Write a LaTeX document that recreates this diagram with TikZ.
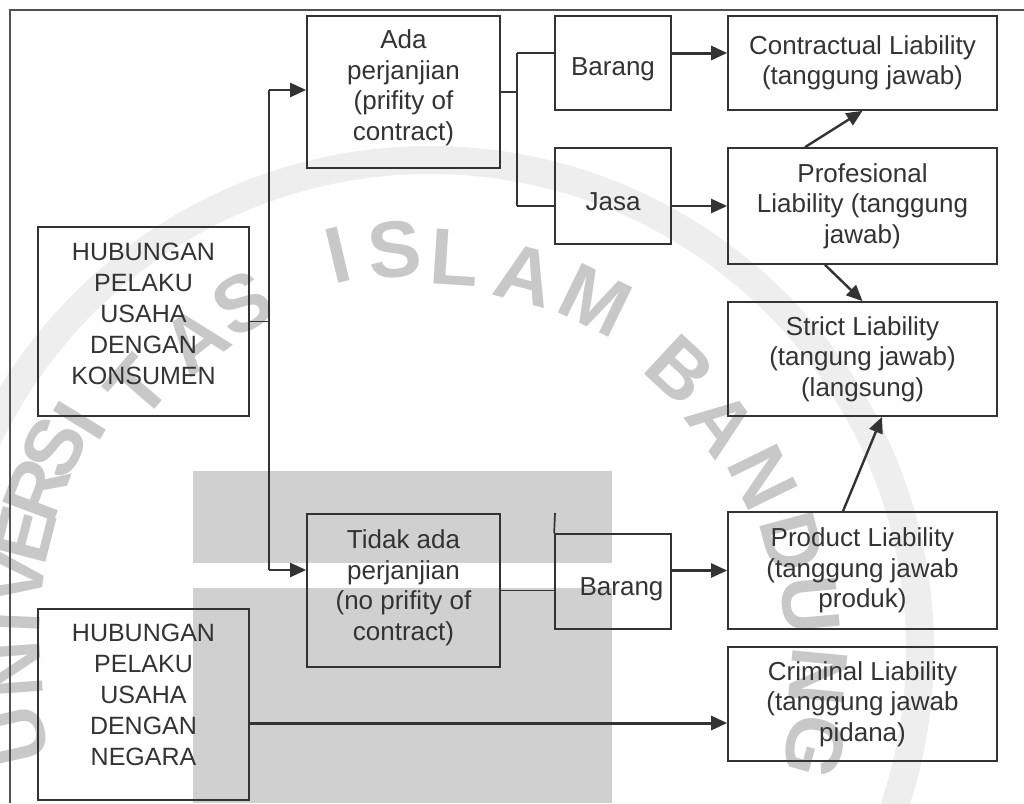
\documentclass[tikz,border=0pt]{standalone}
\usepackage{fontspec}
\setmainfont{Liberation Sans}
\usetikzlibrary{arrows.meta,calc}
\definecolor{ink}{HTML}{333333}
\definecolor{wmgray}{RGB}{208,208,208}
\definecolor{ringgray}{RGB}{238,238,238}
\definecolor{wmletter}{RGB}{200,200,200}
\tikzset{
  box/.style={draw=ink, line width=1.7pt, align=center, inner sep=0pt, text=ink, font=\fontsize{26}{30.5}\selectfont},
  bigbox/.style={box, font=\fontsize{25}{31}\selectfont},
  conn/.style={draw=ink, line width=1.7pt},
  arr/.style={draw=ink, line width=2.4pt, -{Triangle[length=16pt,width=14pt]}},
  wm/.style={text=wmletter, font=\fontsize{80}{80}\bfseries\selectfont, inner sep=0pt},
}
\begin{document}
\begin{tikzpicture}[x=1pt,y=-1pt]
\useasboundingbox (0,0) rectangle (1024,803);
% watermark
\begin{scope}
\clip (0,0) rectangle (1024,803);
\draw[ringgray, line width=28pt] (430,650) circle[radius=490pt];
\end{scope}
\fill[wmgray] (193,471) rectangle (612,563);
\fill[wmgray] (193,588) rectangle (612,803);
\foreach \c/\x/\y/\r [count=\i] in {U/18/735/102.9, N/14/670/94, I/12/622/87.5, V/16/578/81.5, E/24/535/75.6, R/37/490/69.5, S/54/447/63.1, I/80/421/58.4, T/138/387/49.1, A/195/340/38.1, S/242/303/29.2,
 I/338/255/13.4, S/395/250/5.1, L/455/258/-3.7, A/525/275/-14.6, M/595/300/-25.9,
 B/680/370/-42.9, A/722/423/-53.4, N/763/477/-63.9, D/793/542/-74.9, U/810/605/-84.7, N/818/677/-95.4, G/815/747/-105.5}
  \node[wm, rotate=\r] (wm\i) at (\x,\y) {\c};
% frame
\coordinate (f1) at (10,803);
\coordinate (f2) at (10,10);
\coordinate (f3) at (1024,10);
\draw[draw=ink!85, line width=1.8pt] (f1) -- (f2) -- (f3);
% boxes
\node[box, minimum width=193pt, minimum height=152pt, text depth=13.5pt] (ada) at (403.5,92) {Ada\\perjanjian\\(prifity of\\contract)};
\node[box, minimum width=116pt, minimum height=94pt, text height=31pt] (bar1) at (613,63) {Barang};
\node[box, minimum width=269pt, minimum height=94pt] (contr) at (862.5,63) {Contractual Liability\\(tanggung jawab)};
\node[box, minimum width=116pt, minimum height=96pt, text height=28.6pt] (jasa) at (613,196) {Jasa};
\node[box, minimum width=269pt, minimum height=116pt] (prof) at (862.5,206) {Profesional\\Liability (tanggung\\jawab)};
\node[box, minimum width=269pt, minimum height=114pt] (strict) at (862.5,359) {Strict Liability\\(tangung jawab)\\(langsung)};
\node[bigbox, minimum width=211pt, minimum height=189pt, text depth=16pt] (kons) at (143.5,321.5) {HUBUNGAN\\PELAKU\\USAHA\\DENGAN\\KONSUMEN};
\node[box, minimum width=193pt, minimum height=153pt, text depth=10.5pt] (tidak) at (403.5,590.5) {Tidak ada\\perjanjian\\(no prifity of\\contract)};
\node[bigbox, minimum width=211pt, minimum height=191pt, text depth=19pt] (neg) at (143.5,704.5) {HUBUNGAN\\PELAKU\\USAHA\\DENGAN\\NEGARA};
\node[box, minimum width=116pt, minimum height=95pt, text height=33pt] (bar2) at (613,581.5) {\hspace*{17pt}Barang};
\node[box, minimum width=269pt, minimum height=117pt] (prod) at (862.5,570.5) {Product Liability\\(tanggung jawab\\produk)};
\node[box, minimum width=269pt, minimum height=114pt] (crim) at (862.5,704) {Criminal Liability\\(tanggung jawab\\pidana)};
% connectors
\coordinate (k1) at (269,321.5);
\coordinate (jt) at (269,90);
\coordinate (jb) at (269,570);
\draw[conn] (kons.east) -- (k1);
\draw[conn] (jt) -- (jb);
\draw[arr] (jt) -- (jt -| ada.west);
\draw[arr] (jb) -- (jb -| tidak.west);
\coordinate (a1) at (517,92);
\coordinate (a2) at (517,53);
\coordinate (a3) at (517,206);
\draw[conn] (ada.east) -- (a1);
\draw[conn] (a2) -- (a3);
\draw[conn] (a2) -- (a2 -| bar1.west);
\draw[conn] (a3) -- (a3 -| jasa.west);
\draw[arr, line width=3pt] (a2 -| bar1.east) -- (a2 -| contr.west);
\draw[arr] (a3 -| jasa.east) -- (prof.west);
\draw[arr] ([xshift=-57.5pt]prof.north) -- (contr.south);
\draw[arr] ([xshift=-37.5pt]prof.south) -- (strict.north);
\draw[arr] ([xshift=-19.5pt]prod.north) -- ([xshift=19.5pt]strict.south);
\coordinate (b2top) at (555,513);
\draw[conn] (tidak.east) -- (tidak.east -| bar2.west);
\draw[conn] (bar2.north west) -- (b2top);
\draw[arr] (prod.west -| bar2.east) -- (prod.west);
\coordinate (n1) at (249,723);
\draw[arr, line width=3pt] (n1) -- (n1 -| crim.west);
\end{tikzpicture}
\end{document}
